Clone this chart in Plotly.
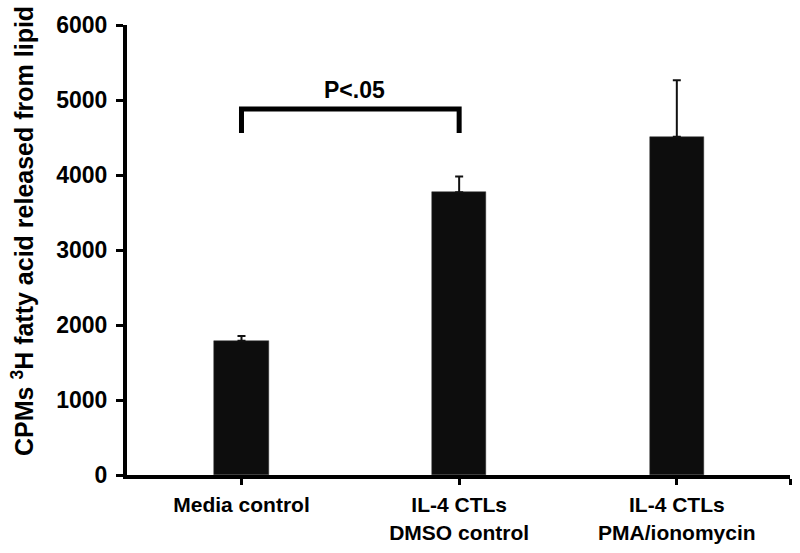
import plotly.graph_objects as go

categories = ["Media control", "IL-4 CTLs<br>DMSO control", "IL-4 CTLs<br>PMA/ionomycin"]
values = [1790, 3770, 4510]
errors_up = [65, 210, 755]
y_ticks = [0, 1000, 2000, 3000, 4000, 5000, 6000]
bracket_pair = [0, 1]
bracket_top = 4880
bracket_leg = 4560
p_label = "P<.05"
p_label_y = 5140

FONT = "Liberation Sans, Arial, sans-serif"
x_pos = list(range(len(categories)))

fig = go.Figure()
fig.add_trace(go.Bar(
    x=x_pos, y=values, width=0.25,
    marker=dict(color="#0d0d0d", line=dict(color="#333333", width=0.5)),
    error_y=dict(type="data", array=errors_up, arrayminus=[0] * len(values),
                 symmetric=False, color="#111111", thickness=2, width=4),
    showlegend=False, hoverinfo="skip",
))

a, b = bracket_pair
fig.add_trace(go.Scatter(
    x=[a, a, b, b], y=[bracket_leg, bracket_top, bracket_top, bracket_leg],
    mode="lines", line=dict(color="black", width=5), showlegend=False,
    hoverinfo="skip",
))

fig.add_annotation(
    x=(a + b) / 2 + 0.02, y=p_label_y, xref="x", yref="y", text="<b>%s</b>" % p_label,
    showarrow=False, font=dict(family=FONT, size=23, color="black"),
)

fig.add_annotation(
    x=-0.157, y=0.542, xref="paper", yref="paper",
    text="<b>CPMs <sup>3</sup>H fatty acid released from lipid</b>",
    textangle=-90, showarrow=False, xanchor="center", yanchor="middle",
    font=dict(family=FONT, size=25, color="black"),
)

fig.update_layout(
    width=800, height=553,
    margin=dict(l=127, r=10, t=25, b=78, autoexpand=False),
    paper_bgcolor="white", plot_bgcolor="white",
    font=dict(family=FONT, color="black"),
    bargap=0,
)
fig.update_xaxes(
    range=[-0.526, 2.52], tickvals=x_pos + [2.52],
    ticktext=["<b>%s</b>" % c for c in categories] + [""],
    showline=True, linecolor="black", linewidth=4,
    ticks="outside", ticklen=6, tickwidth=3, tickcolor="black",
    tickfont=dict(family=FONT, size=21, color="black"),
    ticklabelstandoff=2, showgrid=False, zeroline=False, automargin=False,
)
fig.update_yaxes(
    range=[0, 6000], tickvals=y_ticks,
    ticktext=["<b>%d</b>" % t for t in y_ticks],
    showline=True, linecolor="black", linewidth=4,
    ticks="outside", ticklen=7, tickwidth=3, tickcolor="black",
    tickfont=dict(family=FONT, size=23, color="black"),
    ticklabelstandoff=4, showgrid=False, zeroline=False, automargin=False,
)

fig.write_html(
    "out.html",
    config={"displayModeBar": False},
    post_script="document.body.style.margin='0';document.body.style.overflow='hidden';",
)
